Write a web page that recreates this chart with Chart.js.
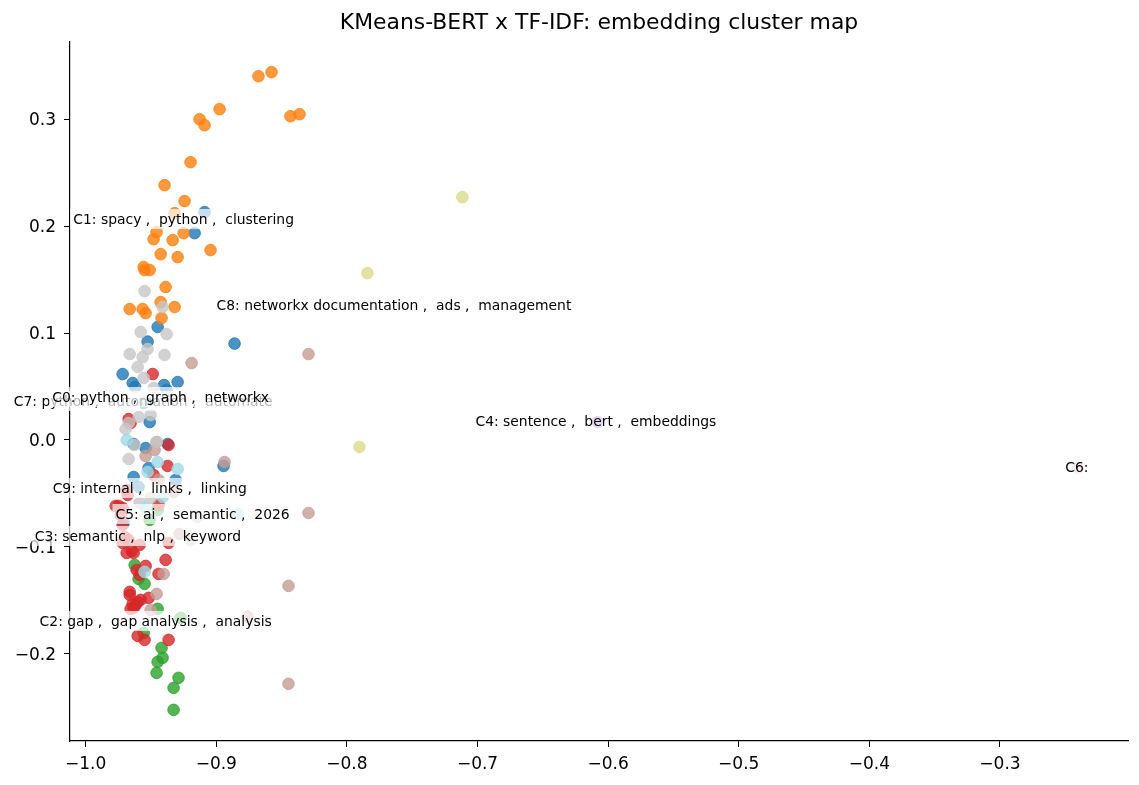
<!DOCTYPE html>
<html>
<head>
<meta charset="utf-8">
<title>embedding cluster map</title>
<script src="https://cdn.jsdelivr.net/npm/chart.js@4"></script>
<style>
html, body { margin: 0; padding: 0; background: #fff; }
#wrap { width: 1139px; height: 785px; }
</style>
</head>
<body>
<div id="wrap"><canvas id="cluster_map"></canvas></div>
<script>
const chartTitle = 'KMeans-BERT x TF-IDF: embedding cluster map';
const xTicks = [-1.0, -0.9, -0.8, -0.7, -0.6, -0.5, -0.4, -0.3];
const yTicks = [-0.2, -0.1, 0.0, 0.1, 0.2, 0.3];

// cluster points as [x, y]
const c0Points = [[-0.909, 0.2132], [-0.9166, 0.1935], [-0.9449, 0.1057], [-0.886, 0.0902], [-0.9526, 0.0921], [-0.9717, 0.0617], [-0.964, 0.0533], [-0.9621, 0.0496], [-0.94, 0.0514], [-0.9296, 0.0542], [-0.938, 0.0468], [-0.9556, 0.0346], [-0.951, 0.0168], [-0.9541, -0.0075], [-0.9373, -0.0037], [-0.8944, -0.0243], [-0.9518, -0.0262], [-0.9633, -0.0346], [-0.9312, -0.0374], [-0.9595, -0.0439], [-0.9709, -0.0776], [-0.9633, -0.0037]];
const c1Points = [[-0.8677, 0.3403], [-0.8577, 0.3441], [-0.8432, 0.3029], [-0.8363, 0.3048], [-0.8975, 0.3095], [-0.9128, 0.3001], [-0.909, 0.2945], [-0.9197, 0.2599], [-0.9396, 0.2384], [-0.9243, 0.2235], [-0.9319, 0.2122], [-0.9457, 0.1945], [-0.925, 0.1935], [-0.948, 0.1879], [-0.9334, 0.187], [-0.9044, 0.1777], [-0.9426, 0.1739], [-0.9296, 0.1711], [-0.9556, 0.1618], [-0.9549, 0.159], [-0.951, 0.159], [-0.9388, 0.1431], [-0.9426, 0.129], [-0.9319, 0.1244], [-0.9663, 0.1225], [-0.9564, 0.1225], [-0.9541, 0.1187], [-0.9419, 0.1141]];
const c2Points = [[-0.9625, -0.1169], [-0.9595, -0.13], [-0.9549, -0.1346], [-0.9449, -0.158], [-0.9273, -0.1664], [-0.9556, -0.1805], [-0.9419, -0.1945], [-0.9411, -0.2038], [-0.9449, -0.2076], [-0.9457, -0.2179], [-0.9289, -0.2225], [-0.9327, -0.2319], [-0.9327, -0.2525], [-0.9449, -0.0655], [-0.951, -0.0748]];
const c3Points = [[-0.9487, 0.0617], [-0.9671, 0.0196], [-0.9656, 0.0159], [-0.9365, -0.0047], [-0.9373, -0.0243], [-0.948, -0.0327], [-0.9686, -0.0468], [-0.9679, -0.0514], [-0.977, -0.0617], [-0.9748, -0.0617], [-0.9717, -0.0636], [-0.9442, -0.0608], [-0.9732, -0.0701], [-0.9717, -0.0795], [-0.9702, -0.0907], [-0.9671, -0.0935], [-0.9717, -0.0963], [-0.9587, -0.0982], [-0.9365, -0.0963], [-0.9686, -0.1057], [-0.9648, -0.1038], [-0.9633, -0.1057], [-0.9388, -0.1122], [-0.9541, -0.1178], [-0.961, -0.1216], [-0.9587, -0.1262], [-0.9442, -0.1253], [-0.9663, -0.1421], [-0.9663, -0.1449], [-0.9518, -0.1477], [-0.9579, -0.1496], [-0.9602, -0.1515], [-0.964, -0.1533], [-0.9617, -0.1543], [-0.9656, -0.158], [-0.9633, -0.1571], [-0.9602, -0.1833], [-0.9549, -0.187], [-0.9365, -0.187]];
const c4Points = [[-0.608, 0.0168]];
const c5Points = [[-0.8294, 0.0804], [-0.9189, 0.072], [-0.9457, -0.0019], [-0.9472, -0.0094], [-0.9541, -0.015], [-0.8937, -0.0206], [-0.9442, -0.0374], [-0.9327, -0.0486], [-0.8294, -0.0683], [-0.9281, -0.0879], [-0.9403, -0.1253], [-0.9457, -0.144], [-0.9503, -0.159], [-0.8447, -0.1365], [-0.8761, -0.1655], [-0.8447, -0.2281]];
const c6Points = [[-0.2403, -0.0262]];
const c7Points = [[-0.9549, 0.1393], [-0.9411, 0.1244], [-0.9579, 0.101], [-0.938, 0.0991], [-0.9526, 0.0851], [-0.9663, 0.0804], [-0.9564, 0.0776], [-0.9396, 0.0795], [-0.9602, 0.0683], [-0.9556, 0.058], [-0.948, 0.0486], [-0.9595, 0.0215], [-0.9503, 0.0234], [-0.9671, 0.0159], [-0.9694, 0.0103], [-0.9625, -0.0047], [-0.9457, -0.0019], [-0.9671, -0.0178], [-0.9587, -0.0589], [-0.9503, -0.0542], [-0.9143, -0.072], [-0.9197, -0.0935]];
const c8Points = [[-0.7116, 0.2272], [-0.7843, 0.1561], [-0.7904, -0.0065]];
const c9Points = [[-0.9686, 0.0], [-0.9449, -0.0206], [-0.9296, -0.0271], [-0.9526, -0.0299], [-0.9411, -0.0533], [-0.9541, -0.0636], [-0.8837, -0.0692], [-0.9549, -0.1234]];
const clusterPoints = [c0Points, c1Points, c2Points, c3Points, c4Points, c5Points, c6Points, c7Points, c8Points, c9Points];

const clusterColors = ['31, 119, 180', '255, 127, 14', '44, 160, 44', '214, 39, 40', '148, 103, 189', '196, 156, 148', '247, 182, 210', '199, 199, 199', '219, 219, 141', '158, 218, 229'];

// keyword annotations, in stacking order (later ones sit on top)
const noteTexts = ['C1: spacy ,  python ,  clustering', 'C8: networkx documentation ,  ads ,  management', 'C7: python ,  automation ,  automate', 'C0: python ,  graph ,  networkx', 'C4: sentence ,  bert ,  embeddings', 'C6: ', 'C9: internal ,  links ,  linking', 'C5: ai ,  semantic ,  2026', 'C3: semantic ,  nlp ,  keyword', 'C2: gap ,  gap analysis ,  analysis'];
const noteX = [-0.925, -0.764, -0.956, -0.9426, -0.6094, -0.2395, -0.951, -0.9105, -0.96, -0.9464];
const noteY = [0.2067, 0.1263, 0.0365, 0.0402, 0.0173, -0.0253, -0.0449, -0.0692, -0.0898, -0.1693];

// white backed text over the points
const clusterNotes = {
    id: 'clusterNotes',
    afterDatasetsDraw(chart) {
        const ctx = chart.ctx;
        const xScale = chart.scales.x;
        const yScale = chart.scales.y;
        ctx.save();
        ctx.font = '13.9px "DejaVu Sans"';
        ctx.textAlign = 'center';
        ctx.textBaseline = 'middle';
        noteTexts.forEach((text, i) => {
            const px = xScale.getPixelForValue(noteX[i]);
            const py = yScale.getPixelForValue(noteY[i]);
            const w = ctx.measureText(text).width;
            ctx.fillStyle = 'rgba(255, 255, 255, 0.7)';
            ctx.fillRect(px - w / 2 - 3, py - 10, w + 6, 20);
            ctx.fillStyle = '#000';
            ctx.fillText(text, px, py + 1);
        });
        ctx.restore();
    }
};

function tickText(value) {
    return value.toFixed(1).replace('-', '\u2212');
}

const tickFont = { family: '"DejaVu Sans"', size: 17 };

new Chart(document.getElementById('cluster_map').getContext('2d'), {
    type: 'scatter',
    data: {
        datasets: clusterPoints.map((points, i) => ({
            label: 'C' + i,
            data: points.map(p => ({ x: p[0], y: p[1] })),
            order: clusterPoints.length - i,
            pointRadius: 5.8,
            pointBorderWidth: 1,
            backgroundColor: 'rgba(' + clusterColors[i] + ', 0.8)',
            borderColor: 'rgba(' + clusterColors[i] + ', 0.8)'
        }))
    },
    options: {
        responsive: true,
        maintainAspectRatio: false,
        animation: false,
        layout: { padding: { left: 0, right: 11, top: 0, bottom: 0 } },
        plugins: {
            legend: { display: false },
            tooltip: { enabled: false },
            title: {
                display: true,
                text: chartTitle,
                color: '#000',
                fullSize: false,
                font: { family: '"DejaVu Sans"', size: 21.9, weight: 'normal' },
                padding: { top: 10, bottom: 5 }
            }
        },
        scales: {
            x: {
                type: 'linear',
                min: -1.012,
                max: -0.202,
                afterFit: s => { s.height = 44; },
                afterBuildTicks: s => { s.ticks = xTicks.map(v => ({ value: v })); },
                border: { color: '#000', width: 1.2 },
                grid: { drawOnChartArea: false, color: '#000', tickLength: 6, tickWidth: 1 },
                ticks: { color: '#000', font: tickFont, padding: 7, maxRotation: 0, autoSkip: false, callback: tickText }
            },
            y: {
                type: 'linear',
                min: -0.2816,
                max: 0.373,
                afterFit: s => { s.width = 70; },
                afterBuildTicks: s => { s.ticks = yTicks.map(v => ({ value: v })); },
                border: { color: '#000', width: 1.2 },
                grid: { drawOnChartArea: false, color: '#000', tickLength: 6, tickWidth: 1 },
                ticks: { color: '#000', font: tickFont, padding: 8, labelOffset: 1.5, autoSkip: false, callback: tickText }
            }
        }
    },
    plugins: [clusterNotes]
});
</script>
</body>
</html>
